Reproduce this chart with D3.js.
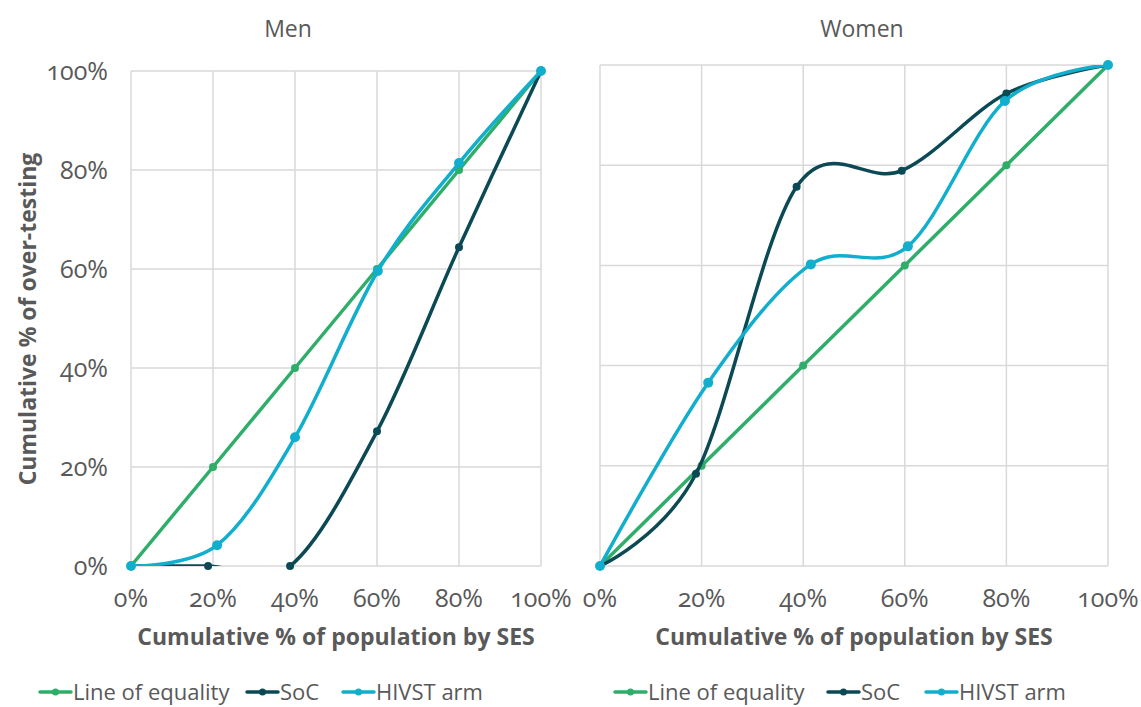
<!DOCTYPE html>
<html>
<head>
<meta charset="utf-8">
<script src="https://cdn.jsdelivr.net/npm/d3@7"></script>
<style>
body { margin: 0; background: #fff; }
text { font-family: "Open Sans", Lato, sans-serif; fill: #595959; }
.tick-label { font-variant-numeric: oldstyle-nums; }
</style>
</head>
<body>
<div id="chart-area"></div>
<script>
// data (x = cumulative % population, y = cumulative % over-testing)
var seriesNames = ["Line of equality", "SoC", "HIVST arm"]
var colors = ["#2fae6a", "#0b4a55", "#12aecd"]
var xTicks = [0, 20, 40, 60, 80, 100]
var yTicks = [0, 20, 40, 60, 80, 100]

var menEquality = [[0, 0], [20, 20], [40, 40], [60, 60], [80, 80], [100, 100]]
var menSoC = [[0, 0], [18.8, 0], [38.8, 0], [60, 27.2], [80, 64.4], [100, 100]]
var menHIVST = [[0, 0], [21, 4.2], [40, 26], [60.2, 59.6], [80, 81.4], [100, 100]]

var womenEquality = [[0, 0], [20, 20], [40, 40], [60, 60], [80, 80], [100, 100]]
var womenSoC = [[0, 0], [18.9, 18.4], [38.7, 75.7], [59.4, 78.9], [80, 94.3], [100, 100]]
var womenHIVST = [[0, 0], [21.3, 36.6], [41.5, 60.2], [60.6, 63.8], [79.7, 92.8], [100, 100]]

var width = 1141
var height = 707

var svg = d3.select("#chart-area").append("svg")
.attr("width", width)
.attr("height", height)

var panels = [
    {title: "Men", titleX: 288, left: 131, right: 541, top: 71, bottom: 566, yLabels: true,
     series: [menEquality, menSoC, menHIVST], legendX: 40, legendOffsets: [0, 207, 303]},
    {title: "Women", titleX: 862, left: 600, right: 1108, top: 65, bottom: 566, yLabels: false,
     series: [womenEquality, womenSoC, womenHIVST], legendX: 615, legendOffsets: [0, 213, 311]}
]

panels.forEach((p, pi) => {
    var x = d3.scaleLinear().domain([0, 100]).range([p.left, p.right])
    var y = d3.scaleLinear().domain([0, 100]).range([p.bottom, p.top])

    var g = svg.append("g")

    // clip to plot area (Excel cuts the smoothed lines at the axis)
    svg.append("clipPath").attr("id", "clip" + pi)
    .append("rect")
    .attr("x", p.left - 3).attr("y", p.top)
    .attr("width", p.right - p.left + 6).attr("height", p.bottom - p.top)

    // gridlines
    g.append("g").selectAll("line")
    .data(xTicks).enter().append("line")
    .attr("x1", d => x(d)).attr("x2", d => x(d))
    .attr("y1", p.top).attr("y2", p.bottom)
    .attr("stroke", "#d9d9d9").attr("stroke-width", 1.5)

    g.append("g").selectAll("line")
    .data(yTicks).enter().append("line")
    .attr("x1", p.left).attr("x2", p.right)
    .attr("y1", d => y(d)).attr("y2", d => y(d))
    .attr("stroke", "#d9d9d9").attr("stroke-width", 1.5)

    // tick labels
    g.append("g").selectAll("text")
    .data(xTicks).enter().append("text")
    .attr("class", "tick-label")
    .attr("x", d => x(d))
    .attr("y", p.bottom + 41)
    .attr("text-anchor", "middle")
    .attr("font-size", "25px")
    .text(d => d + "%")

    if (p.yLabels) {
        g.append("g").selectAll("text")
        .data(yTicks).enter().append("text")
        .attr("class", "tick-label")
        .attr("x", p.left - 23)
        .attr("y", d => y(d) + 9)
        .attr("text-anchor", "end")
        .attr("font-size", "25px")
        .text(d => d + "%")
    }

    // title
    g.append("text")
    .attr("x", p.titleX)
    .attr("y", 37)
    .attr("text-anchor", "middle")
    .attr("font-size", "23px")
    .text(p.title)

    // x axis label
    g.append("text")
    .attr("x", (p.left + p.right) / 2)
    .attr("y", 645)
    .attr("text-anchor", "middle")
    .attr("font-size", "23px")
    .attr("font-weight", "bold")
    .text("Cumulative % of population by SES")

    var line = d3.line()
    .x(d => x(d[0]))
    .y(d => y(d[1]))
    .curve(d3.curveCardinal.tension(0))

    p.series.forEach((s, i) => {
        var lineG = g.append("g")
        if (i > 0) lineG.attr("clip-path", "url(#clip" + pi + ")")
        lineG.append("path")
        .datum(s)
        .attr("d", i === 0 ? d3.line().x(d => x(d[0])).y(d => y(d[1]))(s) : line(s))
        .attr("fill", "none")
        .attr("stroke", colors[i])
        .attr("stroke-width", 3.5)
        .attr("stroke-linecap", "round")

        g.append("g").selectAll("circle")
        .data(s).enter().append("circle")
        .attr("cx", d => x(d[0]))
        .attr("cy", d => y(d[1]))
        .attr("r", i === 2 ? 5 : 4)
        .attr("fill", colors[i])
    })

    // legend
    var leg = g.selectAll("g.legend")
    .data(seriesNames).enter().append("g")
    .attr("class", "legend")
    .attr("transform", (d, i) => "translate(" + (p.legendX + p.legendOffsets[i]) + ", 692)")

    leg.append("line")
    .attr("x1", 0).attr("x2", 31)
    .attr("stroke", (d, i) => colors[i])
    .attr("stroke-width", 3.5)
    .attr("stroke-linecap", "round")

    leg.append("circle")
    .attr("cx", 15.5).attr("r", 3.5)
    .attr("fill", (d, i) => colors[i])

    leg.append("text")
    .attr("x", 33)
    .attr("y", 8)
    .attr("font-size", "22px")
    .text(d => d)
})

// y axis label
svg.append("text")
.attr("transform", "translate(36, 319) rotate(-90)")
.attr("text-anchor", "middle")
.attr("font-size", "23px")
.attr("font-weight", "bold")
.text("Cumulative % of over-testing")
</script>
</body>
</html>
